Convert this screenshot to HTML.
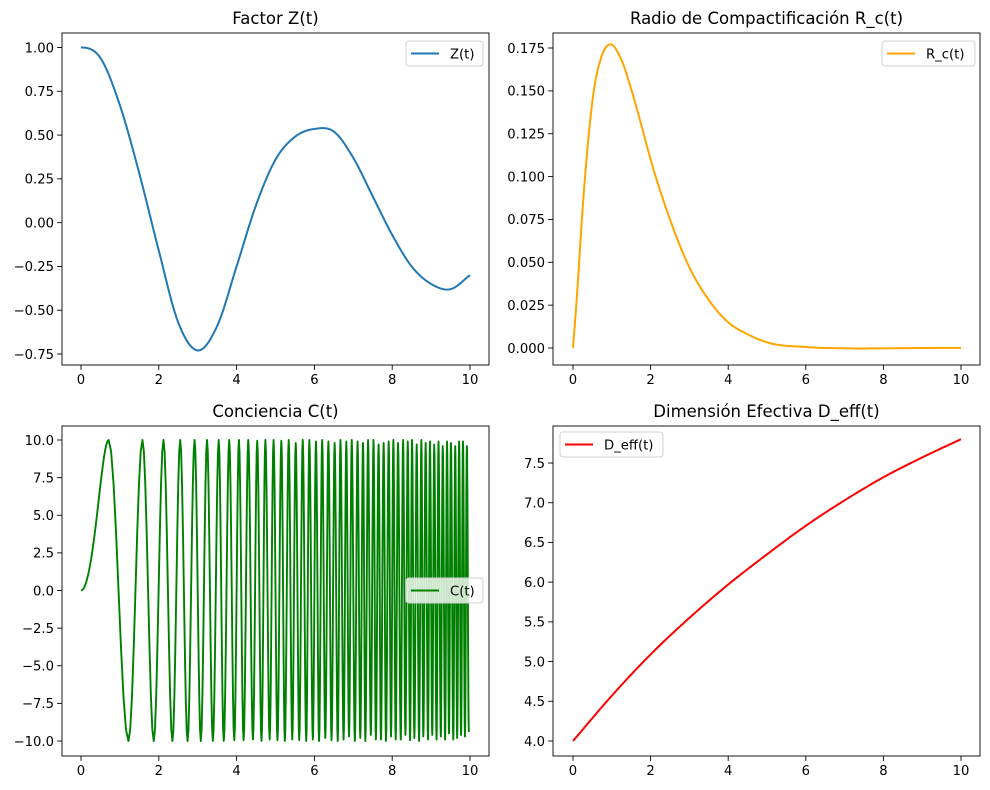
<!DOCTYPE html>
<html><head><meta charset="utf-8">
<style>
body{margin:0;background:#fff;}
svg{display:block;font-family:"DejaVu Sans","Liberation Sans",sans-serif;}
</style></head>
<body>
<svg id="fig" width="990" height="790" viewBox="0 0 990 790"></svg>
<script>
// ---- data ----
const zTimes = [0,0.5,1,1.5,2,2.5,3,3.5,4,4.5,5,5.5,6,6.5,7,7.5,8,8.5,9,9.5,10];
const zValues = [1.0,0.94,0.67,0.28,-0.16,-0.57,-0.73,-0.59,-0.25,0.10,0.36,0.49,0.535,0.52,0.37,0.15,-0.07,-0.25,-0.35,-0.38,-0.30];
const rTimes = [0,0.1,0.25,0.5,0.75,0.93,1.25,1.5,1.75,2,2.5,3,3.5,4,4.5,5,6,7,8,9,10];
const rValues = [0,0.030,0.082,0.144,0.171,0.177,0.168,0.151,0.131,0.110,0.075,0.047,0.028,0.015,0.008,0.0033,0.0006,-0.0002,-0.0002,0,0.0001];
const cExtremaTimes = [0.71,1.22,1.58,1.87,2.12,2.35,2.55,2.74,2.92,3.08,3.24,3.39,3.54,3.67,3.81,3.94,4.06,4.18,4.30,4.42,4.53,4.64,4.74,4.85,4.95,5.05,5.15,5.24,5.34,5.43,5.52,5.61,5.70,5.79,5.87,5.96,6.04,6.12,6.20,6.28,6.36,6.44,6.52,6.60,6.67,6.75,6.82,6.89,6.96,7.04,7.11,7.18,7.25,7.31,7.38,7.45,7.52,7.58,7.65,7.71,7.78,7.84,7.91,7.97,8.03,8.09,8.15,8.22,8.28,8.34,8.40,8.46,8.51,8.57,8.63,8.69,8.75,8.80,8.86,8.92,8.97,9.03,9.08,9.14,9.19,9.25,9.30,9.36,9.41,9.46,9.51,9.57,9.62,9.67,9.72,9.77,9.82,9.87,9.92,9.97];
const cExtremaValues = [10,-10,10,-10,10,-10,10,-10,10,-10,10,-10,10,-10,10,-9.95,10,-9.95,10,-9.9,9.95,-10,10,-9.9,10,-9.95,9.95,-10,10,-9.9,9.8,-9.95,10,-10,10,-9.9,9.9,-10,10,-9.8,9.9,-9.95,9.8,-10,10,-9.9,9.9,-9.7,10,-10,9.9,-9.8,9.8,-10,10,-9.6,10,-9.9,9.7,-9.9,9.8,-10,9.9,-9.7,10,-9.9,9.8,-9.9,10,-9.6,9.9,-9.95,10,-9.8,9.7,-10,10,-9.7,9.8,-9.9,9.9,-9.6,9.7,-9.9,9.9,-9.7,9.6,-9.9,9.9,-9.5,9.8,-9.9,9.6,-9.8,9.9,-9.6,9.9,-9.7,9.6,-9.4];
const dTimes = [0,1,2,3,4,5,6,7,8,9,10];
const dValues = [4.0,4.57,5.09,5.55,5.97,6.35,6.71,7.03,7.32,7.57,7.80];
const xTicks = [0,2,4,6,8,10];
const zTicks = [1.00,0.75,0.50,0.25,0.00,-0.25,-0.50,-0.75];
const rTicks = [0.000,0.025,0.050,0.075,0.100,0.125,0.150,0.175];
const cTicks = [10.0,7.5,5.0,2.5,0.0,-2.5,-5.0,-7.5,-10.0];
const dTicks = [4.0,4.5,5.0,5.5,6.0,6.5,7.0,7.5];

const NS="http://www.w3.org/2000/svg";
const fig=document.getElementById('fig');
function mk(tag,attrs,parent){const e=document.createElementNS(NS,tag);for(const k in attrs)e.setAttribute(k,attrs[k]);(parent||fig).appendChild(e);return e;}
function fmt(v,d){const s=Math.abs(v).toFixed(d);return (v<0?'\u2212':'')+s;}

function panel(o){
  const g=mk('g',{});
  
  
  const X=t=>o.x0+(t-0)*(o.x10-o.x0)/10;
  const Y=v=>o.ya+(v-o.va)*(o.yb-o.ya)/(o.vb-o.va);
  const tt=mk('text',{x:(o.L+o.R)/2,y:o.T-9,'text-anchor':'middle','font-size':'16.5',fill:'#000'},g);
  tt.textContent=o.title;
  
  
  const pts=o.pts(X,Y);
  const clip='c'+o.id;
  const cp=mk('clipPath',{id:clip},g);mk('rect',{x:o.L,y:o.T,width:o.R-o.L,height:o.B-o.T},cp);
  const line=mk('polyline',{points:pts.map(p=>p[0].toFixed(2)+','+p[1].toFixed(2)).join(' '),fill:'none',stroke:o.color,'stroke-width':o.sw||'2','stroke-linejoin':'round','clip-path':'url(#'+clip+')'},g);
  
  
  const fr=mk('rect',{x:o.L,y:o.T,width:o.R-o.L,height:o.B-o.T,fill:'none',stroke:'#000','stroke-width':'0.9'},g);
  
  
  xTicks.forEach(t=>{
    const x=X(t);
    mk('line',{x1:x,x2:x,y1:o.B,y2:o.B+4.9,stroke:'#000','stroke-width':'0.9'},g);
    const lb=mk('text',{x:x,y:o.B+19,'text-anchor':'middle','font-size':'13.2',fill:'#000'},g);
    lb.textContent=String(t);
    
    
  });
  o.yticks.forEach(v=>{
    const y=Y(v);
    mk('line',{x1:o.L-4.9,x2:o.L,y1:y,y2:y,stroke:'#000','stroke-width':'0.9'},g);
    const lb=mk('text',{x:o.L-8,y:y+4.8,'text-anchor':'end','font-size':'13.2',fill:'#000'},g);
    lb.textContent=fmt(v,o.dec);
    
    
  });
  const lg=mk('g',{},g);
  
  
  mk('rect',{x:o.lx,y:o.ly,width:o.lw,height:25,rx:3,fill:'#fff','fill-opacity':'0.8',stroke:'#d0d0d0','stroke-width':'1'},lg);
  mk('line',{x1:o.lx+5,x2:o.lx+33,y1:o.ly+12.5,y2:o.ly+12.5,stroke:o.color,'stroke-width':'2'},lg);
  const lt=mk('text',{x:o.lx+44,y:o.ly+17.5,'font-size':'13.2',fill:'#000'},lg);
  lt.textContent=o.label;
  
  
}

function spline(ts,vs,X,Y,zeroStart){
  const n=ts.length,m=[];
  for(let i=0;i<n;i++){
    if(i===0){m.push(zeroStart?0:(vs[1]-vs[0])/(ts[1]-ts[0]));}
    else if(i===n-1){m.push((vs[i]-vs[i-1])/(ts[i]-ts[i-1]));}
    else{
      const h0=ts[i]-ts[i-1],h1=ts[i+1]-ts[i];
      const d0=(vs[i]-vs[i-1])/h0,d1=(vs[i+1]-vs[i])/h1;
      m.push((d0*h1+d1*h0)/(h0+h1));
    }
  }
  const out=[];
  for(let i=0;i<n-1;i++){
    const h=ts[i+1]-ts[i];
    for(let k=0;k<12;k++){
      const s=k/12,s2=s*s,s3=s2*s;
      const v=(2*s3-3*s2+1)*vs[i]+(s3-2*s2+s)*h*m[i]+(-2*s3+3*s2)*vs[i+1]+(s3-s2)*h*m[i+1];
      out.push([X(ts[i]+h*s),Y(v)]);
    }
  }
  out.push([X(ts[n-1]),Y(vs[n-1])]);
  return out;
}

panel({id:1,name:'panel-z',title:'Factor Z(t)',L:62,R:489,T:33,B:365,x0:81,x10:470,ya:47.5,va:1.0,yb:354,vb:-0.75,
  yticks:zTicks,dec:2,color:'#1f77b4',label:'Z(t)',lx:406,ly:41,lw:77,
  pts:(X,Y)=>spline(zTimes,zValues,X,Y,true)});
panel({id:2,name:'panel-rc',title:'Radio de Compactificación R_c(t)',L:553,R:980,T:33,B:365,x0:573,x10:961,ya:48,va:0.175,yb:348,vb:0,
  yticks:rTicks,dec:3,color:'orange',label:'R_c(t)',lx:882,ly:41,lw:93,
  pts:(X,Y)=>spline(rTimes,rValues,X,Y,false)});
panel({id:3,name:'panel-c',title:'Conciencia C(t)',L:62,R:489,T:426,B:756,x0:81,x10:470,ya:440,va:10,yb:741,vb:-10,sw:'1.9',
  yticks:cTicks,dec:1,color:'green',label:'C(t)',lx:406,ly:578,lw:77,
  pts:(X,Y)=>{
    const out=[];
    const ts=[0].concat(cExtremaTimes),vs=[0].concat(cExtremaValues);
    for(let i=0;i<ts.length-1;i++){
      const a=vs[i],b=vs[i+1];
      const N=i===0?24:8;
      for(let k=0;k<N;k++){
        const s=k/N;
        const e=(i===0)?Math.sin(Math.PI/2*s*s):(1-Math.cos(Math.PI*s))/2;
        out.push([X(ts[i]+(ts[i+1]-ts[i])*s),Y(a+(b-a)*e)]);
      }
    }
    out.push([X(ts[ts.length-1]),Y(vs[vs.length-1])]);
    return out;
  }});
panel({id:4,name:'panel-deff',title:'Dimensión Efectiva D_eff(t)',L:553,R:980,T:426,B:756,x0:573,x10:961,ya:463,va:7.5,yb:741,vb:4.0,
  yticks:dTicks,dec:1,color:'red',label:'D_eff(t)',lx:560,ly:432,lw:103,
  pts:(X,Y)=>spline(dTimes,dValues,X,Y,false)});
</script>
</body></html>
